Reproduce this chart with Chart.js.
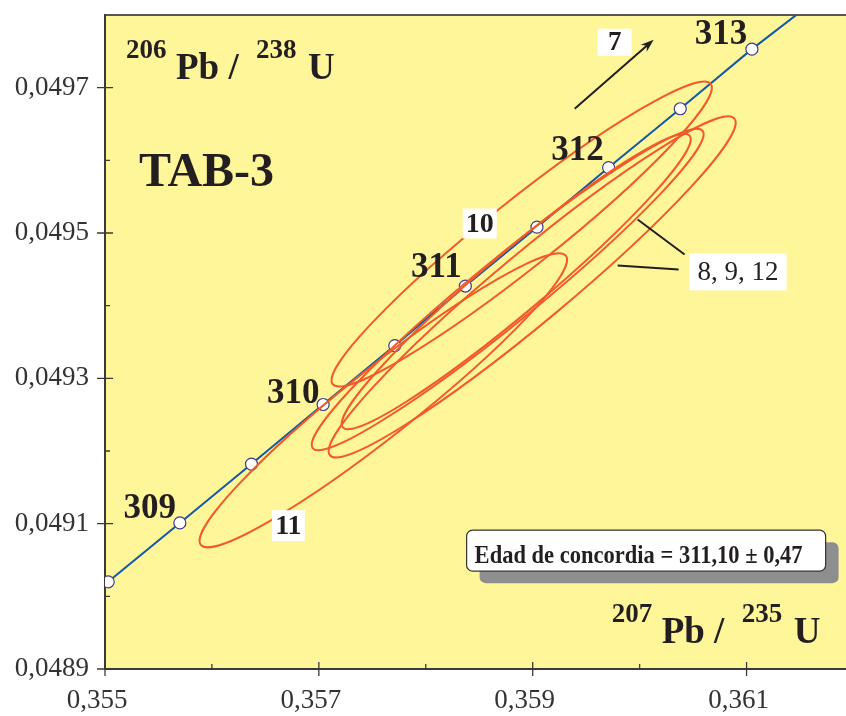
<!DOCTYPE html>
<html>
<head>
<meta charset="utf-8">
<script src="https://cdn.jsdelivr.net/npm/chart.js@4"></script>
<style>
  html, body { margin: 0; padding: 0; background: #fff; overflow: hidden; }
  canvas { display: block; }
</style>
</head>
<body>
<canvas id="c" width="846" height="716"></canvas>
<script>
// ejes
const xTicks = [0.355, 0.357, 0.359, 0.361];
const xTickLabels = ['0,355', '0,357', '0,359', '0,361'];
const xMinorTicks = [0.356, 0.358, 0.360];
const yTicks = [0.0489, 0.0491, 0.0493, 0.0495, 0.0497];
const yTickLabels = ['0,0489', '0,0491', '0,0493', '0,0495', '0,0497'];
const yMinorTicks = [0.0490, 0.0492, 0.0494, 0.0496];

// curva concordia (marcas cada 0,5 Ma)
const ages = [308.5, 309, 309.5, 310, 310.5, 311, 311.5, 312, 312.5, 313];
const ageLabels = ['', '309', '', '310', '', '311', '', '312', '', '313'];
const pb207u235 = [0.35503, 0.35570, 0.35637, 0.35704, 0.35771, 0.35837, 0.35904, 0.35971, 0.36038, 0.36105];
const pb206u238 = [0.049020, 0.049101, 0.049182, 0.049264, 0.049345, 0.049427, 0.049508, 0.049590, 0.049671, 0.049753];
const curveEndsX = [0.355, 0.36150];
const curveEndsY = [0.049016, 0.049804];

// elipses de error (centro, semiancho x/y, correlacion)
const ellNames = ['8', '9', '10', '11', '12'];
const ellX = [0.358766, 0.358995, 0.358897, 0.357603, 0.358846];
const ellY = [0.0494223, 0.0494258, 0.0494986, 0.0492698, 0.0494333];
const ellSx = [0.001832, 0.001903, 0.001778, 0.001718, 0.001632];
const ellSy = [0.0002212, 0.0002346, 0.0002098, 0.0002023, 0.0002033];
const ellRho = [0.967, 0.964, 0.960, 0.956, 0.964];

const FONT = "'Liberation Serif', 'Times New Roman', serif";
const INK = '#231f20';

const curvePts = [{ x: curveEndsX[0], y: curveEndsY[0] }]
  .concat(pb207u235.map((x, i) => ({ x, y: pb206u238[i] })))
  .concat([{ x: curveEndsX[1], y: curveEndsY[1] }]);
const markPts = pb207u235.map((x, i) => ({ x, y: pb206u238[i] }));

// dibujo de todo lo que no es dataset
const decor = {
  id: 'decor',
  beforeDraw(chart) {
    const { ctx, chartArea: a } = chart;
    ctx.save();
    ctx.fillStyle = '#fff599';
    ctx.fillRect(a.left, a.top, a.right - a.left, a.bottom - a.top);
    ctx.strokeStyle = '#222';
    ctx.lineWidth = 1.5;
    ctx.beginPath();
    ctx.moveTo(a.left, a.top);
    ctx.lineTo(a.right, a.top);
    ctx.stroke();
    ctx.restore();
  },
  afterDatasetsDraw(chart) {
    const { ctx, chartArea: a } = chart;
    const xs = chart.scales.x, ys = chart.scales.y;
    ctx.save();
    ctx.beginPath();
    ctx.rect(a.left, a.top, a.right - a.left, a.bottom - a.top);
    ctx.clip();
    ctx.strokeStyle = '#f15a29';
    ctx.lineWidth = 2;
    for (let i = 0; i < ellX.length; i++) {
      const cx = xs.getPixelForValue(ellX[i]);
      const cy = ys.getPixelForValue(ellY[i]);
      const A = Math.abs(xs.getPixelForValue(ellX[i] + ellSx[i]) - cx);
      const B = Math.abs(ys.getPixelForValue(ellY[i] + ellSy[i]) - cy);
      // covarianza en pixeles (y hacia abajo)
      const p = A * A, r = B * B, q = -ellRho[i] * A * B;
      const m = (p + r) / 2, d = Math.sqrt(((p - r) / 2) ** 2 + q * q);
      const ang = 0.5 * Math.atan2(2 * q, p - r);
      ctx.beginPath();
      ctx.ellipse(cx, cy, Math.sqrt(m + d), Math.sqrt(Math.max(m - d, 0.5)), ang, 0, Math.PI * 2);
      ctx.stroke();
    }
    ctx.restore();
  },
  afterDraw(chart) {
    const { ctx, chartArea: a } = chart;
    const xs = chart.scales.x, ys = chart.scales.y;
    const X = v => xs.getPixelForValue(v);
    const Y = v => ys.getPixelForValue(v);
    ctx.save();

    // marcas de los ejes
    ctx.strokeStyle = '#3a3a3a';
    ctx.lineWidth = 1.3;
    ctx.beginPath();
    xTicks.forEach(v => { ctx.moveTo(X(v), a.bottom - 7); ctx.lineTo(X(v), a.bottom + 7); });
    xMinorTicks.forEach(v => { ctx.moveTo(X(v), a.bottom - 5); ctx.lineTo(X(v), a.bottom); });
    yTicks.forEach(v => { ctx.moveTo(a.left - 8, Y(v)); ctx.lineTo(a.left + 8, Y(v)); });
    yMinorTicks.forEach(v => { ctx.moveTo(a.left, Y(v)); ctx.lineTo(a.left + 5, Y(v)); });
    ctx.stroke();

    // rotulos de los ejes
    ctx.fillStyle = '#333';
    ctx.font = '27px ' + FONT;
    ctx.textAlign = 'center';
    ctx.textBaseline = 'middle';
    xTicks.forEach((v, i) => ctx.fillText(xTickLabels[i], X(v) - 8, a.bottom + 32));
    ctx.textAlign = 'right';
    yTicks.forEach((v, i) => ctx.fillText(yTickLabels[i], a.left - 16, Y(v)));

    ctx.fillStyle = INK;
    ctx.textAlign = 'center';
    ctx.textBaseline = 'alphabetic';

    // edades sobre la concordia
    const ageOff = { '309': [-30, -5], '310': [-30, -1], '311': [-29, -9], '312': [-31, -8], '313': [-31, -5] };
    ctx.font = 'bold 35px ' + FONT;
    ageLabels.forEach((t, i) => {
      if (!t) return;
      const o = ageOff[t];
      ctx.fillText(t, X(pb207u235[i]) + o[0], Y(pb206u238[i]) + o[1]);
    });

    // TAB-3
    ctx.textAlign = 'left';
    ctx.font = 'bold 48px ' + FONT;
    ctx.fillText('TAB-3', X(0.3553178), Y(0.0495653));

    // titulos isotopicos
    const iso = (x, y, sup1, sup2) => {
      const px = X(x), py = Y(y);
      ctx.font = 'bold 27px ' + FONT;
      ctx.fillText(sup1, px, py - 21);
      ctx.fillText(sup2, px + 130, py - 21);
      ctx.font = 'bold 37px ' + FONT;
      ctx.fillText('Pb /', px + 50, py);
      ctx.fillText('U', px + 182, py);
    };
    iso(0.3551963, 0.0497124, '206', '238');
    iso(0.3597383, 0.0489357, '207', '235');

    // etiquetas con fondo blanco
    const tag = (x, y, w, h, t, font) => {
      const px = X(x), py = Y(y);
      ctx.fillStyle = '#fff';
      ctx.fillRect(px - w / 2, py - h / 2, w, h);
      ctx.fillStyle = INK;
      ctx.font = font;
      ctx.textAlign = 'center';
      ctx.textBaseline = 'middle';
      ctx.fillText(t, px, py + 1);
    };
    tag(0.3585047, 0.0495131, 34, 30, ellNames[2], 'bold 28px ' + FONT);
    tag(0.3567150, 0.0490972, 33, 31, ellNames[3], 'bold 28px ' + FONT);
    tag(0.3597664, 0.0497625, 34, 27, '7', 'bold 27px ' + FONT);
    tag(0.3609206, 0.0494464, 97, 37, [ellNames[0], ellNames[1], ellNames[4]].join(', '), '27px ' + FONT);

    // flecha hacia la elipse 7 y lineas indicadoras
    ctx.strokeStyle = INK;
    ctx.lineWidth = 2;
    const x1 = X(0.3593925), y1 = Y(0.0496711), x2 = X(0.3601308), y2 = Y(0.0497660);
    const ang = Math.atan2(y2 - y1, x2 - x1);
    ctx.beginPath();
    ctx.moveTo(x1, y1);
    ctx.lineTo(x2 - 8 * Math.cos(ang), y2 - 8 * Math.sin(ang));
    ctx.moveTo(X(0.3599813), Y(0.0495186));
    ctx.lineTo(X(0.3604206), Y(0.0494704));
    ctx.moveTo(X(0.3597944), Y(0.0494553));
    ctx.lineTo(X(0.3603645), Y(0.0494498));
    ctx.stroke();
    ctx.beginPath();
    ctx.moveTo(x2, y2);
    ctx.lineTo(x2 - 13 * Math.cos(ang) + 4.5 * Math.sin(ang), y2 - 13 * Math.sin(ang) - 4.5 * Math.cos(ang));
    ctx.lineTo(x2 - 9 * Math.cos(ang), y2 - 9 * Math.sin(ang));
    ctx.lineTo(x2 - 13 * Math.cos(ang) - 4.5 * Math.sin(ang), y2 - 13 * Math.sin(ang) + 4.5 * Math.cos(ang));
    ctx.closePath();
    ctx.fillStyle = INK;
    ctx.fill();

    // recuadro de la edad de concordia
    const bx = X(0.3600607), by = Y(0.0490629), bw = 359, bh = 41;
    const rr = (l, t, w, h, r) => {
      ctx.beginPath();
      ctx.roundRect(l, t, w, h, r);
    };
    ctx.fillStyle = '#8e8e8e';
    rr(bx - bw / 2 + 13, by - bh / 2 + 12, bw, bh, 6);
    ctx.fill();
    ctx.fillStyle = '#fff';
    ctx.strokeStyle = '#333';
    ctx.lineWidth = 1.2;
    rr(bx - bw / 2, by - bh / 2, bw, bh, 6);
    ctx.fill();
    ctx.stroke();
    ctx.fillStyle = INK;
    ctx.font = 'bold 25px ' + FONT;
    ctx.textAlign = 'left';
    ctx.textBaseline = 'alphabetic';
    ctx.fillText('Edad de concordia = 311,10 \u00b1 0,47', bx - bw / 2 + 8, by + 12, 328);

    ctx.restore();
  },
};

new Chart(document.getElementById('c'), {
  type: 'scatter',
  data: {
    datasets: [
      {
        label: 'marcas',
        data: markPts,
        showLine: false,
        pointRadius: 6,
        pointBackgroundColor: '#ffffff',
        pointBorderColor: '#3b3b8f',
        pointBorderWidth: 1.2,
        order: 0,
      },
      {
        label: 'concordia',
        data: curvePts,
        showLine: true,
        borderColor: '#1259a7',
        borderWidth: 2,
        pointRadius: 0,
        order: 1,
      },
    ],
  },
  options: {
    responsive: false,
    animation: false,
    layout: { autoPadding: false, padding: { top: 15, right: 0, left: 0, bottom: 0 } },
    plugins: { legend: { display: false }, tooltip: { enabled: false } },
    scales: {
      x: {
        type: 'linear',
        min: 0.355,
        max: 0.36193,
        grid: { display: false },
        border: { display: true, color: '#3a3a3a', width: 2 },
        afterBuildTicks: s => { s.ticks = xTicks.map(v => ({ value: v })); },
        afterFit: s => { s.height = 47; },
        ticks: { display: false },
      },
      y: {
        type: 'linear',
        min: 0.0489,
        max: 0.04980,
        grid: { display: false },
        border: { display: true, color: '#3a3a3a', width: 2 },
        afterBuildTicks: s => { s.ticks = yTicks.map(v => ({ value: v })); },
        afterFit: s => { s.width = 105; },
        ticks: { display: false },
      },
    },
  },
  plugins: [decor],
});
</script>
</body>
</html>
